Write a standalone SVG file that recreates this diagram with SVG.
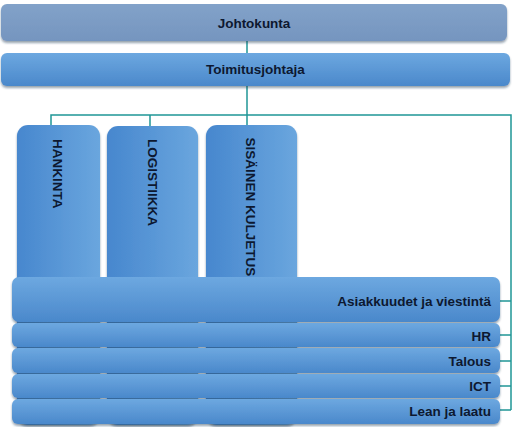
<svg xmlns="http://www.w3.org/2000/svg" width="515" height="427" viewBox="0 0 515 427">
<style>
  .t { font-family: "Liberation Sans", Arial, sans-serif; font-weight: bold; font-size: 13.5px; fill: #0d1830; }
  .c { stroke: #1f9696; stroke-width: 1.5; fill: none; }
</style>
<defs>
  <linearGradient id="gH" x1="0" y1="0" x2="0" y2="1">
    <stop offset="0" stop-color="#6da8e0"/>
    <stop offset="1" stop-color="#4a88cb"/>
  </linearGradient>
  <linearGradient id="gV" x1="0" y1="0" x2="1" y2="0">
    <stop offset="0" stop-color="#4787ce"/>
    <stop offset="1" stop-color="#6aa6de"/>
  </linearGradient>
  <linearGradient id="gJ" x1="0" y1="0" x2="0" y2="1">
    <stop offset="0" stop-color="#82a2c9"/>
    <stop offset="1" stop-color="#7595bf"/>
  </linearGradient>
  <filter id="sh" x="-5%" y="-20%" width="110%" height="150%">
    <feDropShadow dx="0" dy="2" stdDeviation="1.2" flood-color="#1a3050" flood-opacity="0.45"/>
  </filter>
</defs>
<rect width="515" height="427" fill="#ffffff"/>

<g id="connectors">
  <line class="c" x1="247" y1="41" x2="247" y2="53"/>
  <line class="c" x1="247" y1="86" x2="247" y2="115"/>
  <polyline class="c" points="51,125 51,115 511,115 511,410"/>
  <line class="c" x1="150" y1="115" x2="150" y2="126"/>
  <line class="c" x1="247" y1="115" x2="247" y2="125"/>
  <line class="c" x1="500" y1="301" x2="511" y2="301"/>
  <line class="c" x1="500" y1="335" x2="511" y2="335"/>
  <line class="c" x1="500" y1="361" x2="511" y2="361"/>
  <line class="c" x1="500" y1="386" x2="511" y2="386"/>
  <line class="c" x1="500" y1="410" x2="511" y2="410"/>
</g>

<g id="johtokunta">
  <rect x="1" y="4" width="506" height="37" rx="6" fill="url(#gJ)" filter="url(#sh)"/>
  <text class="t" x="254" y="28" text-anchor="middle">Johtokunta</text>
</g>
<g id="toimitusjohtaja">
  <rect x="1" y="53" width="509" height="33" rx="6" fill="url(#gH)" filter="url(#sh)"/>
  <text class="t" x="255.5" y="73.5" text-anchor="middle">Toimitusjohtaja</text>
</g>

<g id="hankinta">
  <rect x="17" y="125" width="83" height="300" rx="11" fill="url(#gV)" filter="url(#sh)"/>
  <text class="t" transform="translate(52.5,139) rotate(90)">HANKINTA</text>
</g>
<g id="logistiikka">
  <rect x="107" y="126" width="91" height="299" rx="11" fill="url(#gV)" filter="url(#sh)"/>
  <text class="t" transform="translate(147.5,139) rotate(90)">LOGISTIIKKA</text>
</g>
<g id="sisainen-kuljetus">
  <rect x="206" y="125" width="91" height="300" rx="11" fill="url(#gV)" filter="url(#sh)"/>
  <text class="t" transform="translate(246,137.5) rotate(90)">SISÄINEN KULJETUS</text>
</g>

<g id="asiakkuudet">
  <rect x="12" y="277" width="488" height="45" rx="7" fill="url(#gH)" filter="url(#sh)"/>
  <text class="t" x="491" y="305.5" text-anchor="end">Asiakkuudet ja viestintä</text>
</g>
<g id="hr">
  <rect x="12" y="323" width="488" height="24" rx="6" fill="url(#gH)" filter="url(#sh)"/>
  <text class="t" x="491" y="340.5" text-anchor="end">HR</text>
</g>
<g id="talous">
  <rect x="12" y="348" width="488" height="25" rx="6" fill="url(#gH)" filter="url(#sh)"/>
  <text class="t" x="491" y="365.5" text-anchor="end">Talous</text>
</g>
<g id="ict">
  <rect x="12" y="374" width="488" height="24" rx="6" fill="url(#gH)" filter="url(#sh)"/>
  <text class="t" x="491" y="390.5" text-anchor="end">ICT</text>
</g>
<g id="lean-ja-laatu">
  <rect x="12" y="399" width="488" height="25" rx="6" fill="url(#gH)" filter="url(#sh)"/>
  <text class="t" x="491" y="416" text-anchor="end">Lean ja laatu</text>
</g>
</svg>
